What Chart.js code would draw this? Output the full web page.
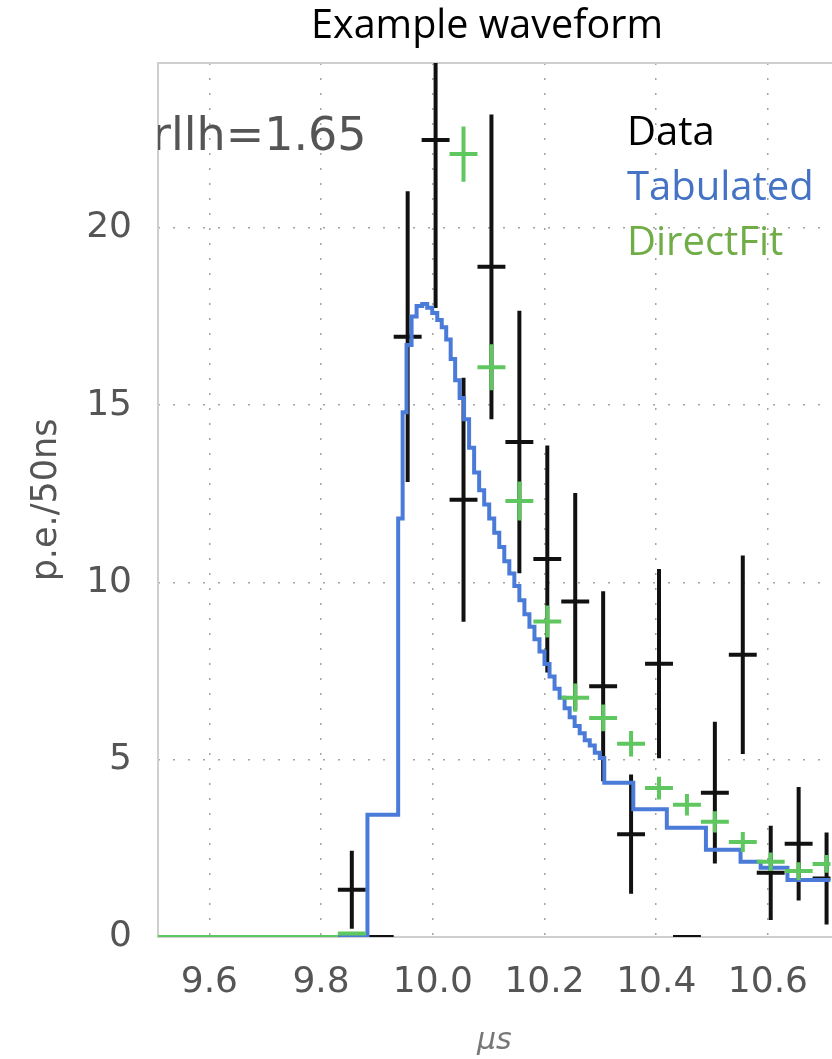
<!DOCTYPE html>
<html>
<head>
<meta charset="utf-8">
<script src="https://cdn.jsdelivr.net/npm/chart.js@4.4.1/dist/chart.umd.min.js"></script>
<style>
  html, body { margin: 0; padding: 0; background: #fff; }
</style>
</head>
<body>
<canvas id="myChart" width="832" height="1059"></canvas>
<script>
// 50 ns bins, centers in microseconds
const binCenters = [9.505, 9.555, 9.605, 9.655, 9.705, 9.755, 9.805, 9.855, 9.905, 9.955,
   10.005, 10.055, 10.105, 10.155, 10.205, 10.255, 10.305, 10.355, 10.405, 10.455,
   10.505, 10.555, 10.605, 10.655, 10.705];
const binHalf = 0.025;

// Data (black), with symmetric errors
const dataVals = [null, null, null, null, null, null, null, 1.33, 0, 16.93,
   22.48, 12.33, 18.9, 13.96, 10.66, 9.46, 7.07, 2.9, 7.71, 0,
   4.07, 7.96, 1.81, 2.63, 1.65];
const dataErr = [null, null, null, null, null, null, null, 1.1, 0, 4.1,
   4.74, 3.44, 4.3, 3.7, 3.2, 3.06, 2.68, 1.68, 2.67, 0,
   2.0, 2.8, 1.33, 1.6, 1.3];

// DirectFit (green)
const fitVals = [0, 0, 0, 0, 0, 0, 0, 0.1, null, null,
   null, 22.08, 16.07, 12.3, 8.9, 6.75, 6.18, 5.45, 4.2, 3.73,
   3.25, 2.68, 2.12, 1.86, 2.06];
const fitErr = [0, 0, 0, 0, 0, 0, 0, 0, null, null,
   null, 0.78, 0.65, 0.55, 0.45, 0.4, 0.38, 0.36, 0.32, 0.3,
   0.3, 0.28, 0.26, 0.25, 0.25];

// Tabulated (blue step line), value holds from x[i] to x[i+1]
const tabX = [9.508, 9.883, 9.938, 9.946, 9.953, 9.962, 9.971, 9.981, 9.99, 9.999,
   10.008, 10.016, 10.024, 10.032, 10.04, 10.048, 10.056, 10.065, 10.074, 10.083,
   10.092, 10.101, 10.11, 10.119, 10.128, 10.137, 10.146, 10.155, 10.164, 10.173,
   10.182, 10.191, 10.2, 10.209, 10.218, 10.227, 10.236, 10.245, 10.254, 10.263,
   10.272, 10.281, 10.29, 10.299, 10.307, 10.359, 10.419, 10.489, 10.551, 10.587,
   10.635, 10.712];
const tabY = [0, 3.45, 11.8, 14.8, 16.7, 17.5, 17.8, 17.85, 17.75, 17.6,
   17.4, 17.2, 16.85, 16.3, 15.7, 15.2, 14.6, 13.8, 13.1, 12.6,
   12.2, 11.8, 11.4, 11.0, 10.6, 10.25, 9.9, 9.5, 9.1, 8.75,
   8.4, 8.05, 7.7, 7.35, 7.0, 6.75, 6.45, 6.2, 5.95, 5.75,
   5.55, 5.4, 5.2, 5.05, 4.35, 3.6, 3.08, 2.46, 2.12, 1.95,
   1.61, 1.61];

const xTicks = [9.6, 9.8, 10.0, 10.2, 10.4, 10.6];
const yTicks = [0, 5, 10, 15, 20];

// error bar crosses as broken line segments
function crosses(vals, errs) {
   const pts = [];
   binCenters.forEach((c, i) => {
      const v = vals[i];
      if (v === null) return;
      pts.push({x: c - binHalf, y: v}, {x: c + binHalf, y: v}, {x: c, y: null});
      if (errs[i] > 0) {
         pts.push({x: c, y: v - errs[i]}, {x: c, y: v + errs[i]}, {x: c, y: null});
      }
   });
   return pts;
}

const gridColor = ctx => (ctx.tick && ctx.tick.value === 0) ? 'rgba(0,0,0,0)' : 'rgba(0,0,0,0.36)';

// light frame on top, left and bottom (right side runs off the image)
const framePlugin = {
   id: 'frame',
   beforeDatasetsDraw(chart) {
      const a = chart.chartArea, c = chart.ctx;
      c.save();
      c.strokeStyle = '#cfcfcf';
      c.lineWidth = 2;
      c.beginPath();
      c.moveTo(a.right + 2, a.top);
      c.lineTo(a.left, a.top);
      c.lineTo(a.left, a.bottom);
      c.lineTo(a.right + 2, a.bottom);
      c.stroke();
      c.restore();
   }
};

const textPlugin = {
   id: 'texts',
   afterDraw(chart) {
      const a = chart.chartArea, c = chart.ctx;
      c.save();
      c.beginPath();
      c.rect(a.left, a.top, a.right - a.left, a.bottom - a.top);
      c.clip();
      c.fillStyle = '#555';
      c.font = '46px "DejaVu Sans"';
      c.textBaseline = 'alphabetic';
      c.fillText('rllh=1.65', 152, 150);
      c.restore();

      c.save();
      c.textBaseline = 'alphabetic';
      c.font = '40px "Open Sans"';
      c.fillStyle = '#000';
      c.fillText('Data', 627, 145);
      c.fillStyle = '#4472C4';
      c.fillText('Tabulated', 627, 200);
      c.fillStyle = '#70AD47';
      c.fillText('DirectFit', 627, 255);

      c.font = '39.5px "Open Sans"';
      c.fillStyle = '#000';
      c.textAlign = 'center';
      c.fillText('Example waveform', 487, 38);
      c.restore();
   }
};

const ctx = document.getElementById('myChart');

new Chart(ctx, {
   type: 'line',
   data: {
      datasets: [{
         label: 'DirectFit',
         data: crosses(fitVals, fitErr),
         borderColor: '#5fc75f',
         borderWidth: 4,
         borderCapStyle: 'butt',
         pointRadius: 0,
         spanGaps: false,
         order: 0
      }, {
         label: 'Tabulated',
         data: tabX.map((x, i) => ({x: x, y: tabY[i]})),
         borderColor: '#4a7bd8',
         borderWidth: 4,
         stepped: 'before',
         pointRadius: 0,
         order: 1
      }, {
         label: 'Data',
         data: crosses(dataVals, dataErr),
         borderColor: '#111',
         borderWidth: 4,
         borderCapStyle: 'butt',
         pointRadius: 0,
         spanGaps: false,
         order: 2
      }]
   },
   options: {
      responsive: false,
      animation: false,
      devicePixelRatio: 1,
      layout: { padding: { top: 63, left: 0, right: 0, bottom: 0 } },
      plugins: {
         legend: { display: false },
         tooltip: { enabled: false },
         title: { display: false }
      },
      scales: {
         x: {
            type: 'linear',
            min: 9.508,
            max: 10.712,
            afterBuildTicks: s => { s.ticks = xTicks.map(v => ({value: v})); },
            afterFit: s => { s.height = 122; },
            ticks: {
               font: { family: 'DejaVu Sans', size: 36 },
               color: '#555',
               padding: 24,
               maxRotation: 0,
               callback: v => v.toFixed(1)
            },
            grid: { color: gridColor, lineWidth: 1.5, drawTicks: false },
            border: { display: false, dash: [2, 13] },
            title: {
               display: true,
               text: 'μs',
               color: '#777',
               font: { family: 'DejaVu Sans', size: 30, style: 'italic' },
               padding: { top: 0, bottom: 0 }
            }
         },
         y: {
            min: 0,
            max: 24.65,
            afterBuildTicks: s => { s.ticks = yTicks.map(v => ({value: v})); },
            afterFit: s => { s.width = 158; },
            ticks: {
               font: { family: 'DejaVu Sans', size: 36 },
               color: '#555',
               padding: 26
            },
            grid: { color: gridColor, lineWidth: 1.5, drawTicks: false },
            border: { display: false, dash: [2, 13] },
            title: {
               display: true,
               text: 'p.e./50ns',
               color: '#555',
               font: { family: 'DejaVu Sans', size: 35 },
               padding: { top: 26, bottom: 0 }
            }
         }
      }
   },
   plugins: [framePlugin, textPlugin]
});
</script>
</body>
</html>
